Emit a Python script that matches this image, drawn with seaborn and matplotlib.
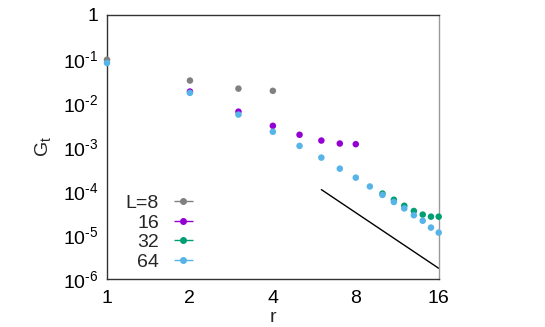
import numpy as np
import pandas as pd
import matplotlib
matplotlib.use("Agg")
import matplotlib.pyplot as plt
import matplotlib.ticker as mticker
import seaborn as sns

# ---- data ----
r_L8 = [1, 2, 3, 4]
g_L8 = [0.095, 0.032, 0.021, 0.0187]

r_L16 = [2, 3, 4, 5, 6, 7, 8]
g_L16 = [0.018, 0.0063, 0.0030, 0.00188, 0.00139, 0.00119, 0.00115]

r_L32 = [10, 11, 12, 13, 14, 15, 16]
g_L32 = [8.7e-5, 6.3e-5, 4.6e-5, 3.5e-5, 2.9e-5, 2.6e-5, 2.6e-5]

r_L64 = [1, 2, 3, 4, 5, 6, 7, 8, 9, 10, 11, 12, 13, 14, 15, 16]
g_L64 = [0.080, 0.0168, 0.0054, 0.0022, 0.00105, 0.00057, 0.00032, 0.00020,
         0.000126, 8.1e-5, 5.6e-5, 4.0e-5, 2.8e-5, 2.1e-5, 1.47e-5, 1.13e-5]

guide_r = [6, 16]
guide_g = [1.07e-4, 1.75e-6]

series_labels = ["L=8", "16", "32", "64"]
series_colors = ["#808080", "#9400d3", "#009e73", "#56b4e9"]

x_ticks = [1, 2, 4, 8, 16]
y_ticks = [1e-6, 1e-5, 1e-4, 1e-3, 1e-2, 1e-1, 1]

# ---- style ----
sns.set_theme(style="white")
plt.rcParams["font.family"] = ["Liberation Sans", "DejaVu Sans"]
plt.rcParams["mathtext.fontset"] = "custom"
plt.rcParams["mathtext.rm"] = "Liberation Sans"
plt.rcParams["mathtext.it"] = "Liberation Sans:italic"
plt.rcParams["mathtext.default"] = "rm"

frames = []
for lab, rr, gg in zip(series_labels, [r_L8, r_L16, r_L32, r_L64],
                       [g_L8, g_L16, g_L32, g_L64]):
    frames.append(pd.DataFrame({"r": rr, "G": gg, "L": lab}))
df = pd.concat(frames, ignore_index=True)

fig = plt.figure(figsize=(5.45, 3.27), dpi=100)
ax = fig.add_axes([107 / 545, 1 - 279 / 327, (438.7 - 107) / 545, (279 - 14.7) / 327])

sns.scatterplot(data=df, x="r", y="G", hue="L", hue_order=series_labels,
                palette=series_colors, s=22, linewidth=0, ax=ax, legend=False,
                clip_on=False, zorder=3)
sns.lineplot(x=guide_r, y=guide_g, color="black", linewidth=1.0, ax=ax)

ax.set_xscale("log", base=2)
ax.set_yscale("log")
ax.set_xlim(1, 16)
ax.set_ylim(1e-6, 1)
ax.set_xticks(x_ticks)
ax.xaxis.set_major_formatter(mticker.FuncFormatter(lambda v, p: f"{int(round(v))}"))
ax.xaxis.set_minor_locator(mticker.NullLocator())
ax.set_yticks(y_ticks)
ax.yaxis.set_minor_locator(mticker.NullLocator())


def yfmt(v, p):
    e = int(round(np.log10(v)))
    return "1" if e == 0 else r"$10^{\text{%d}}$" % e


ax.yaxis.set_major_formatter(mticker.FuncFormatter(yfmt))
ax.tick_params(axis="both", direction="in", length=4, width=1, color="#aaaaaa",
               labelsize=14, labelcolor="black", pad=6)
ax.tick_params(axis="x", pad=8)

for side in ["left", "bottom", "top"]:
    ax.spines[side].set_color("#333333")
    ax.spines[side].set_linewidth(1.0)
ax.spines["right"].set_color("#999999")
ax.spines["right"].set_linewidth(1.0)

ax.set_xlabel("r", fontsize=14, labelpad=1)
ax.set_ylabel(r"$G_t$", fontsize=14)
ax.yaxis.set_label_coords(-0.162, 0.5)

# legend (gnuplot style: label, then point with horizontal error bar)
handles = []
for c in series_colors:
    h = ax.errorbar([], [], xerr=[], fmt="o", color=c, ms=4, capsize=3,
                    elinewidth=1, capthick=1)
    handles.append(h)
leg = ax.legend(handles, series_labels, markerfirst=False, frameon=False,
                fontsize=14, handlelength=1.0, handletextpad=0.75,
                labelspacing=0.1, borderpad=0, borderaxespad=0,
                loc="center right",
                bbox_to_anchor=(193 / 545, 1 - 232.5 / 327),
                bbox_transform=fig.transFigure)

fig.savefig("out.png", dpi=100)
